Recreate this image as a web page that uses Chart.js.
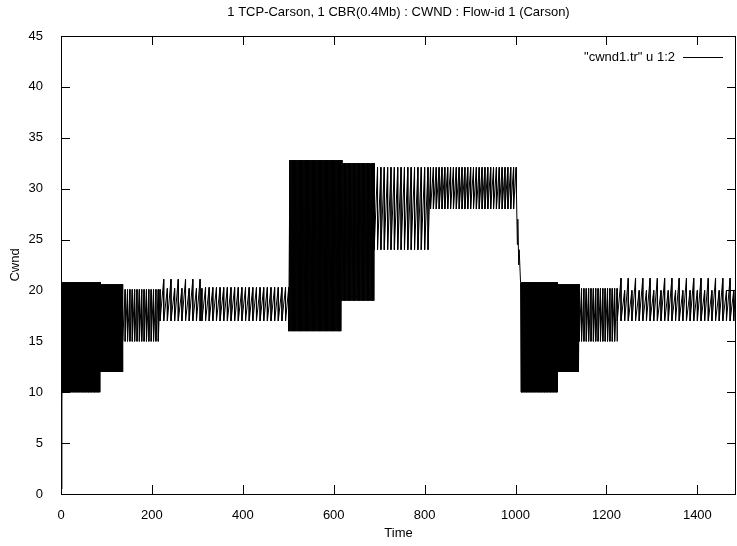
<!DOCTYPE html>
<html>
<head>
<meta charset="utf-8">
<script src="https://cdn.jsdelivr.net/npm/chart.js@4"></script>
<style>
  html, body { margin: 0; padding: 0; background: #fff; }
</style>
</head>
<body>
<canvas id="cwndChart" width="737" height="546"></canvas>
<script>
// axis ticks
var xTicks = [0, 200, 400, 600, 800, 1000, 1200, 1400];
var yTicks = [0, 5, 10, 15, 20, 25, 30, 35, 40, 45];

// slow start at t=0
var startTime = [0, 2, 4];
var startCwnd = [0.5, 9, 20.8];

// sawtooth phases: time span, trough, peak, alternate peak, tooth length
var segFrom    = [4,    86,   136,  218,  310,  501,  618,  689,  813,  1012, 1092, 1140, 1224];
var segTo      = [86,   136,  218,  310,  501,  618,  689,  813,  1001, 1092, 1140, 1224, 1485];
var segLow     = [10,   12,   15,   17,   17,   16,   19,   24,   28,   10,   12,   15,   17];
var segHigh    = [20.8, 20.6, 20.1, 20.2, 20.3, 32.8, 32.5, 32.1, 32.1, 20.8, 20.6, 20.2, 20.0];
var segHighAlt = [20.8, 20.6, 20.1, 21.1, 20.3, 32.8, 32.5, 32.1, 32.1, 20.8, 20.6, 20.2, 21.2];
var segPeriod  = [1.2,  1.2,  5.2,  8,    8,    2.6,  2.8,  7.4,  6.3,  1.2,  1.2,  5.2,  8];

// the drop around t=1000
var dropTime = [1002, 1004, 1005, 1007, 1008, 1011];
var dropCwnd = [29.5, 24.5, 27, 22.5, 24, 20.8];

function buildPoints() {
  var pts = [];
  var i, t, n;
  for (i = 0; i < startTime.length; i++) pts.push({ x: startTime[i], y: startCwnd[i] });
  for (i = 0; i < segFrom.length; i++) {
    if (segFrom[i] === 1012) {
      for (var j = 0; j < dropTime.length; j++) pts.push({ x: dropTime[j], y: dropCwnd[j] });
    }
    n = 0;
    for (t = segFrom[i]; t < segTo[i] - 0.01; t += segPeriod[i]) {
      pts.push({ x: t, y: segLow[i] });
      pts.push({ x: Math.min(t + segPeriod[i], segTo[i]), y: (n % 2 === 0) ? segHighAlt[i] : segHigh[i] });
      n++;
    }
  }
  return pts;
}

// gnuplot style frame: full border, ticks pointing in, mirrored on top and right,
// plus the key (label text, then a line sample) in the top right corner
var gnuplotFrame = {
  id: 'gnuplotFrame',
  afterDatasetsDraw: function (chart) {
    var ctx = chart.ctx;
    var a = chart.chartArea;
    var xs = chart.scales.x, ys = chart.scales.y;
    var len = 9;
    ctx.save();
    ctx.strokeStyle = '#000';
    ctx.lineWidth = 1;
    ctx.beginPath();
    xTicks.forEach(function (v) {
      var px = Math.round(xs.getPixelForValue(v)) + 0.5;
      ctx.moveTo(px, a.bottom); ctx.lineTo(px, a.bottom - len);
      ctx.moveTo(px, a.top); ctx.lineTo(px, a.top + len);
    });
    yTicks.forEach(function (v) {
      var py = Math.round(ys.getPixelForValue(v)) + 0.5;
      ctx.moveTo(a.left, py); ctx.lineTo(a.left + len, py);
      ctx.moveTo(a.right, py); ctx.lineTo(a.right - len, py);
    });
    ctx.stroke();
    ctx.strokeRect(Math.round(a.left) + 0.5, Math.round(a.top) + 0.5,
      Math.round(a.right - a.left) - 1, Math.round(a.bottom - a.top));

    // key
    var ds = chart.data.datasets[0];
    var keyY = Math.round(a.top + 21) + 0.5;
    var lineEnd = a.right - 13, lineStart = lineEnd - 40;
    ctx.beginPath();
    ctx.moveTo(lineStart, keyY);
    ctx.lineTo(lineEnd, keyY);
    ctx.stroke();
    ctx.font = '13px "Liberation Sans", Arial, sans-serif';
    ctx.fillStyle = '#000';
    ctx.textAlign = 'right';
    ctx.textBaseline = 'middle';
    ctx.fillText(ds.label, lineStart - 8, keyY);
    ctx.restore();
  }
};

Chart.defaults.font.family = '"Liberation Sans", Arial, sans-serif';
Chart.defaults.font.size = 13;
Chart.defaults.color = '#000';

new Chart(document.getElementById('cwndChart').getContext('2d'), {
  type: 'line',
  data: {
    datasets: [{
      label: '"cwnd1.tr" u 1:2',
      data: buildPoints(),
      borderColor: '#000',
      backgroundColor: '#000',
      borderWidth: 1,
      pointRadius: 0,
      tension: 0,
      fill: false
    }]
  },
  options: {
    responsive: false,
    animation: false,
    parsing: false,
    layout: { padding: { top: 0, right: 1, bottom: 0, left: 0 } },
    plugins: {
      title: {
        display: true,
        fullSize: false,
        text: '1 TCP-Carson, 1 CBR(0.4Mb) : CWND : Flow-id 1 (Carson)',
        font: { size: 13, weight: 'normal' },
        color: '#000',
        padding: { top: 5, bottom: 15.4 }
      },
      legend: { display: false },
      tooltip: { enabled: false }
    },
    scales: {
      x: {
        type: 'linear',
        min: 0,
        max: 1485,
        afterFit: function (s) { s.height = 52; },
        grid: { display: false },
        border: { display: false },
        ticks: {
          stepSize: 200, includeBounds: false, autoSkip: false, maxRotation: 0, padding: 6, color: '#000',
          callback: function (v) { return String(v); }
        },
        title: { display: true, text: 'Time', color: '#000', padding: { top: 0, bottom: 5 } }
      },
      y: {
        type: 'linear',
        min: 0,
        max: 45,
        afterFit: function (s) { s.width = 61; },
        grid: { display: false },
        border: { display: false },
        ticks: { stepSize: 5, autoSkip: false, padding: 10, color: '#000' },
        title: { display: true, text: 'Cwnd', color: '#000', padding: { top: 8, bottom: 0 } }
      }
    }
  },
  plugins: [gnuplotFrame]
});
</script>
</body>
</html>
